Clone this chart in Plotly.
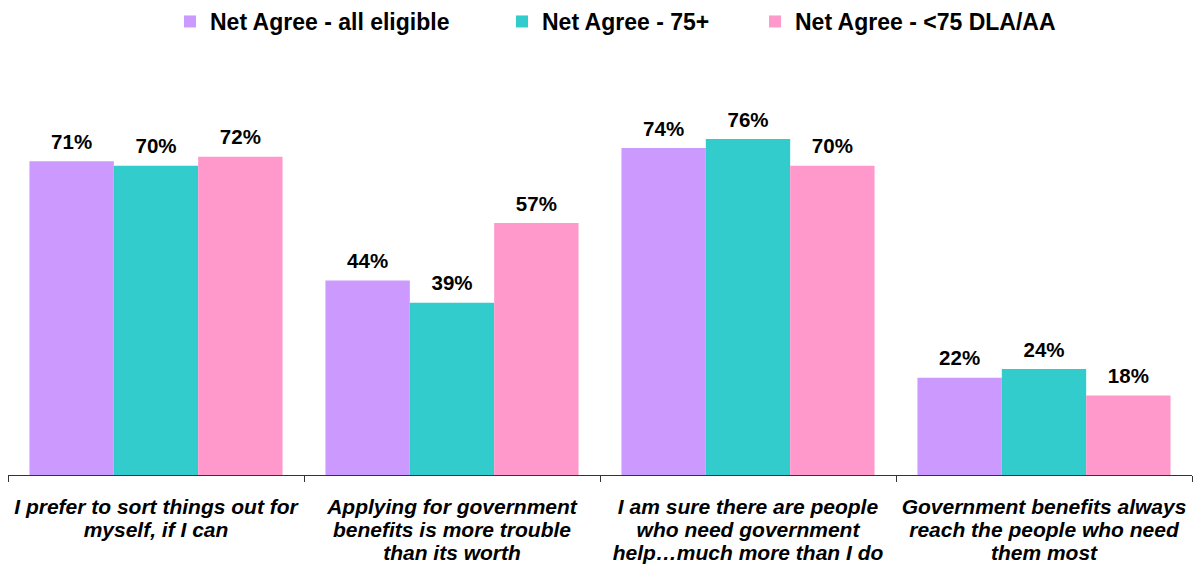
import plotly.graph_objects as go

# Survey statements (x categories), one list of lines per statement
category_lines = [
    ["I prefer to sort things out for", "myself, if I can"],
    ["Applying for government", "benefits is more trouble", "than its worth"],
    ["I am sure there are people", "who need government", "help\u2026much more than I do"],
    ["Government benefits always", "reach the people who need", "them most"],
]
series_names = ["Net Agree - all eligible", "Net Agree - 75+", "Net Agree - <75 DLA/AA"]
all_eligible = [71, 44, 74, 22]
over_75 = [70, 39, 76, 24]
under_75_dla_aa = [72, 57, 70, 18]

series_values = [all_eligible, over_75, under_75_dla_aa]
colors = ["#CC99FF", "#33CCCC", "#FF99CC"]

FONT = "Liberation Sans, Arial, Helvetica, sans-serif"
W, H = 1193, 567

# Category keys, and tick texts with tight line spacing (small base font,
# larger inline span size)
categories = [" ".join(lines) for lines in category_lines]
tick_texts = [
    "<br>".join(f"<span style='font-size:21px'>{ln}</span>" for ln in lines)
    for lines in category_lines
]

# Each series gets its own legend box so the entries can be spaced freely
legend_ids = ["legend", "legend2", "legend3"]
legend_left_px = [170, 502, 755]

fig = go.Figure()
for i, (name, vals, col) in enumerate(zip(series_names, series_values, colors)):
    fig.add_trace(go.Bar(
        x=categories,
        y=vals,
        name=name,
        offsetgroup=str(i),
        legend=legend_ids[i],
        marker=dict(color=col, line=dict(width=0)),
        hoverinfo="skip",
    ))

# Value labels above each bar, grouped the same way as the bars
for i, (name, vals) in enumerate(zip(series_names, series_values)):
    fig.add_trace(go.Scatter(
        x=categories,
        y=vals,
        mode="markers+text",
        offsetgroup=str(i),
        marker=dict(size=10, color="rgba(0,0,0,0)"),
        text=[f"{v}%" for v in vals],
        textposition="top center",
        textfont=dict(family=FONT, size=20.5, color="#000000", weight="bold"),
        cliponaxis=False,
        showlegend=False,
        hoverinfo="skip",
    ))

legend_style = dict(
    orientation="h",
    xref="container",
    yref="container",
    xanchor="left",
    yanchor="top",
    y=1.0,
    bgcolor="rgba(0,0,0,0)",
    font=dict(family=FONT, size=23, color="#000000", weight="bold"),
)
legends = {
    lid: dict(legend_style, x=px / W)
    for lid, px in zip(legend_ids, legend_left_px)
}

fig.update_layout(
    width=W,
    height=H,
    barmode="group",
    bargap=0.145,
    bargroupgap=0,
    scattermode="group",
    scattergap=0.145,
    plot_bgcolor="white",
    paper_bgcolor="white",
    margin=dict(l=8, r=1, t=60, b=92),
    font=dict(family=FONT, color="#000000"),
    showlegend=True,
    **legends,
)

fig.update_xaxes(
    showline=True,
    linecolor="#333333",
    linewidth=1,
    ticks="outside",
    tickson="boundaries",
    ticklen=6,
    tickcolor="#333333",
    tickmode="array",
    tickvals=categories,
    ticktext=tick_texts,
    tickfont=dict(family=FONT, size=17.5, color="#000000", weight="bold", style="italic"),
    ticklabelstandoff=17,
    showgrid=False,
    zeroline=False,
)
fig.update_yaxes(
    range=[0, 93.9],
    visible=False,
    showgrid=False,
    zeroline=False,
)

fig.write_html("out.html")
